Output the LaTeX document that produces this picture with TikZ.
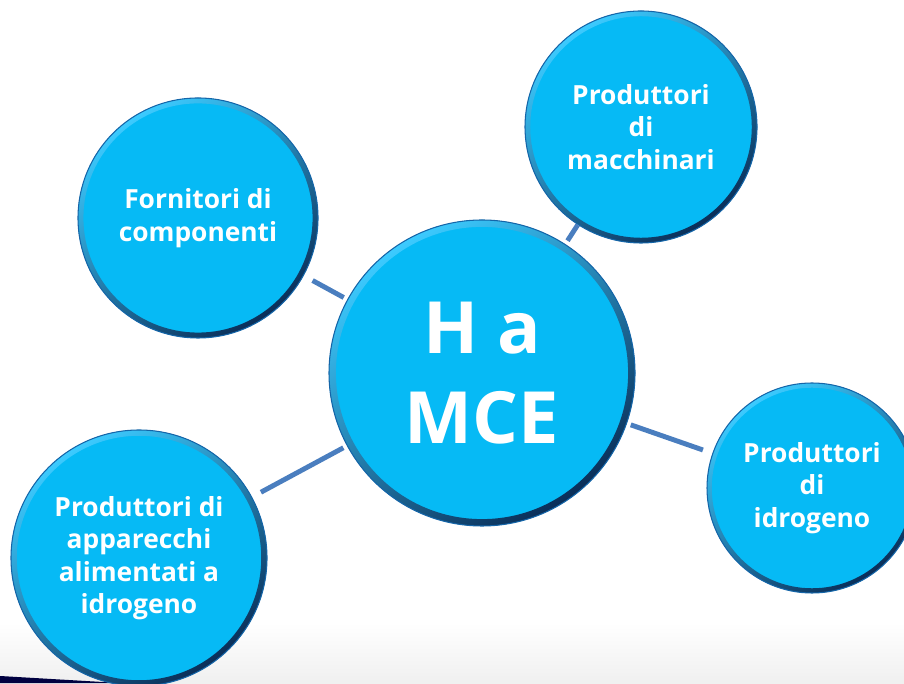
\documentclass[tikz,border=0pt]{standalone}
\usepackage{fontspec}
\setmainfont{Open Sans}
\usetikzlibrary{calc}
\definecolor{bubblefill}{HTML}{06BAF5}
\definecolor{rimlight}{HTML}{3CCBFF}
\definecolor{rimdark}{HTML}{0A2E58}
\definecolor{rimline}{HTML}{1565A8}
\definecolor{linkblue}{HTML}{4A7EBF}

\begin{document}
\begin{tikzpicture}[
  bubble/.style={circle, fill=bubblefill, draw=rimline, line width=0.6pt,
    text=white, align=center, inner sep=0pt,
    font=\bfseries\fontsize{15}{18.5}\selectfont,
    path picture={\path let \p1=($(path picture bounding box.east)-(path picture bounding box.center)$) in
      [even odd rule, top color=rimlight, bottom color=rimdark, shading angle=35]
      (path picture bounding box.center) circle[radius=\x1] circle[radius=0.955*\x1];}},
  link/.style={draw=linkblue, line width=2.8pt, shorten <=0.2cm, shorten >=0.08cm}
]
	 \useasboundingbox (0,0) rectangle (18.08,13.66);
	 \fill[top color=white, bottom color=black!6] (0,0) rectangle (18.08,1.2);
	 \fill[black!75!blue] (0,0) -- (0,0.14) -- (2.4,0) -- cycle;

	 \node[bubble, minimum size=6.12cm, font=\bfseries\fontsize{41}{51}\selectfont] (hmce) at (9.64,6.20) {H a\\MCE};
	 \node[bubble, minimum size=4.8cm]  (forn)  at (3.96,9.30)  {Fornitori di\\componenti};
	 \node[bubble, minimum size=4.64cm] (macch) at (12.82,11.12) {Produttori\\di\\macchinari};
	 \node[bubble, minimum size=4.2cm]  (idro)  at (16.24,3.90) {Produttori\\di\\idrogeno};
	 \node[bubble, minimum size=5.12cm] (appar) at (2.78,2.50)  {Produttori di\\apparecchi\\alimentati a\\idrogeno};

	 \draw[link] (forn)  to (hmce);
	 \draw[link, shorten <=0pt] (macch) to (hmce);
	 \draw[link] (idro)  to (hmce);
	 \draw[link] (appar) to (hmce);
	\end{tikzpicture}
\end{document}
